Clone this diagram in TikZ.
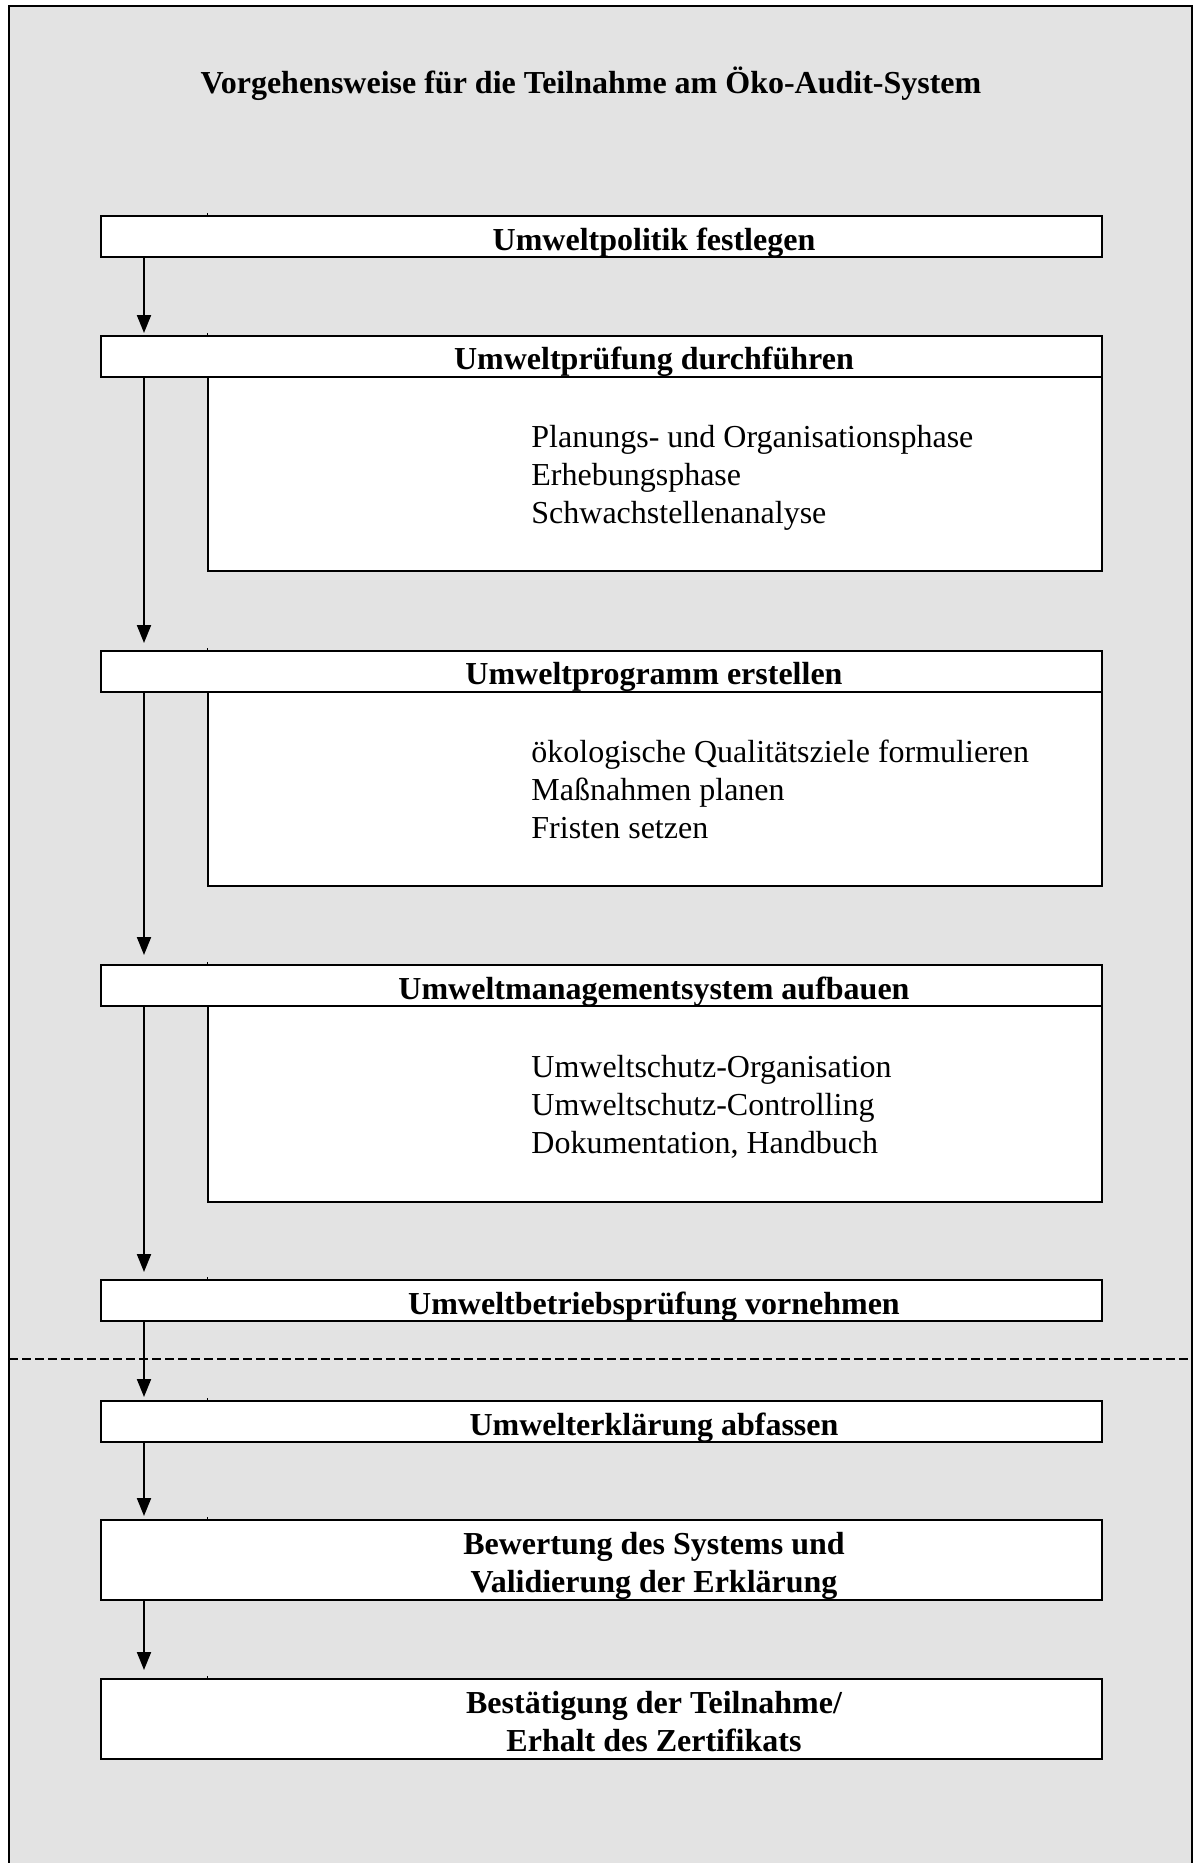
\documentclass[tikz,border=0pt]{standalone}
\usepackage{fontspec}
\setmainfont{Liberation Serif}
\usetikzlibrary{arrows.meta}
\definecolor{bggray}{RGB}{227,227,227}
\begin{document}
\begin{tikzpicture}[x=0.5pt,y=-0.5pt,
  frameline/.style={line width=1pt, draw=black},
  hbox/.style={draw=black, line width=1pt, fill=white, anchor=north west, inner sep=0pt, minimum width=500.5pt, minimum height=20.5pt},
  sbox/.style={draw=black, line width=1pt, fill=white, anchor=north west, inner sep=0pt, minimum width=447pt},
  htext/.style={anchor=base, inner sep=0pt, font=\fontsize{16}{19}\selectfont\bfseries, align=center},
  stext/.style={anchor=base west, inner sep=0pt, font=\fontsize{16}{19}\selectfont, align=left},
  arr/.style={line width=1pt, -{Triangle[length=9pt,width=7pt]}},
  tickmark/.style={line width=0.5pt},
  divider/.style={line width=1pt, dash pattern=on 4.5pt off 2pt}]
\useasboundingbox (0,0) rectangle (1196,1863);
\clip (0,0) rectangle (1196,1863);
\fill[white] (0,0) rectangle (1196,1863);
% frame
\fill[bggray] (9,6) rectangle (1192,1880);
\draw[frameline] (9,1880) -- (9,6) -- (1192,6) -- (1192,1880);
% title
\node[anchor=base, inner sep=0pt, font=\fontsize{16}{19}\selectfont\bfseries] (title) at (591,93)
  {Vorgehensweise für die Teilnahme am Öko-Audit-System};
% dashed divider
\coordinate (dl) at (9,1359);
\coordinate (dr) at (1192,1359);
\draw[divider] (dl) -- (dr);
% sub boxes
\node[sbox, minimum height=97.5pt] (s2) at (207,375) {};
\node[sbox, minimum height=97.5pt] (s3) at (207,690) {};
\node[sbox, minimum height=98pt] (s4) at (207,1005) {};
% header boxes
\node[hbox] (b1) at (100,215) {};
\node[hbox] (b2) at (100,335) {};
\node[hbox] (b3) at (100,650) {};
\node[hbox] (b4) at (100,964) {};
\node[hbox] (b5) at (100,1279) {};
\node[hbox] (b6) at (100,1400) {};
\node[hbox, minimum height=40pt] (b7) at (100,1519) {};
\node[hbox, minimum height=40pt] (b8) at (100,1678) {};
% small ticks on top edges
\foreach \b in {b1,b2,b3,b4,b5,b6,b7,b8}
  \draw[tickmark] ([xshift=53.5pt]\b.north west) -- ++(0,-2);
% header texts (anchor base = baseline of last line)
\node[htext] (t1) at (654,250) {Umweltpolitik festlegen};
\node[htext] (t2) at (654,369) {Umweltprüfung durchführen};
\node[htext] (t3) at (654,684) {Umweltprogramm erstellen};
\node[htext] (t4) at (654,999) {Umweltmanagementsystem aufbauen};
\node[htext] (t5) at (654,1314) {Umweltbetriebsprüfung vornehmen};
\node[htext] (t6) at (654,1435) {Umwelterklärung abfassen};
\node[htext] (t7) at (654,1592) {Bewertung des Systems und\\Validierung der Erklärung};
\node[htext] (t8) at (654,1751) {Bestätigung der Teilnahme/\\Erhalt des Zertifikats};
% sub texts
\node[stext] (u2) at (531,523) {Planungs- und Organisationsphase\\Erhebungsphase\\Schwachstellenanalyse};
\node[stext] (u3) at (531,838) {ökologische Qualitätsziele formulieren\\Maßnahmen planen\\Fristen setzen};
\node[stext] (u4) at (531,1153) {Umweltschutz-Organisation\\Umweltschutz-Controlling\\Dokumentation, Handbuch};
% arrows
\draw[arr, shorten >=1pt] ([xshift=22pt]b1.south west) -- ([xshift=22pt]b2.north west);
\draw[arr, shorten >=3.5pt] ([xshift=22pt]b2.south west) -- ([xshift=22pt]b3.north west);
\draw[arr, shorten >=4.5pt] ([xshift=22pt]b3.south west) -- ([xshift=22pt]b4.north west);
\draw[arr, shorten >=3.5pt] ([xshift=22pt]b4.south west) -- ([xshift=22pt]b5.north west);
\draw[arr, shorten >=1.5pt] ([xshift=22pt]b5.south west) -- ([xshift=22pt]b6.north west);
\draw[arr, shorten >=1.5pt] ([xshift=22pt]b6.south west) -- ([xshift=22pt]b7.north west);
\draw[arr, shorten >=4pt] ([xshift=22pt]b7.south west) -- ([xshift=22pt]b8.north west);
\end{tikzpicture}
\end{document}
